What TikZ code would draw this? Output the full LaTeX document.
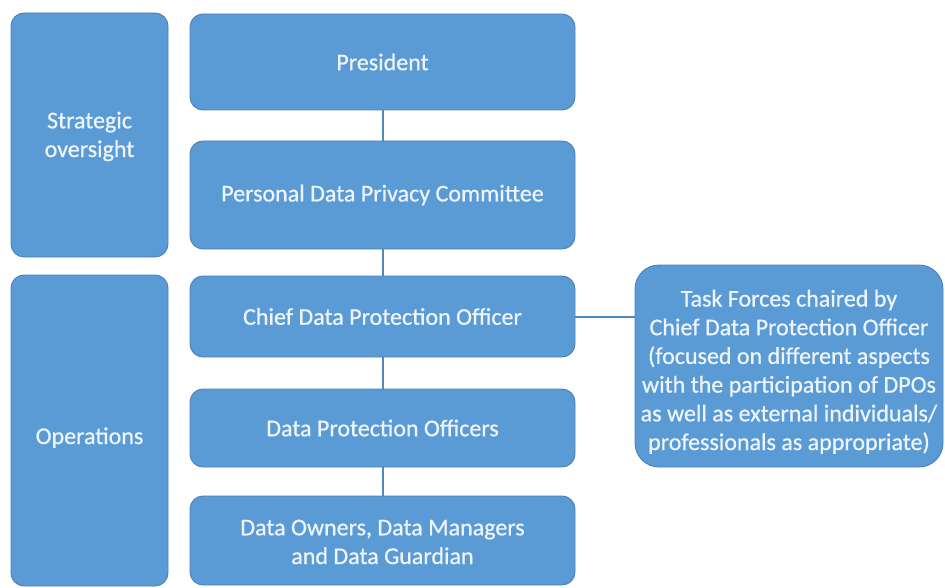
\documentclass[tikz,border=0pt]{standalone}
\usepackage{fontspec}
\setmainfont{Carlito}
\newfontfamily\boxfont[FakeBold=0.7]{Carlito}
\begin{document}
\begin{tikzpicture}[x=1pt,y=-1pt,
  box/.style={draw=boxedge, fill=boxfill, line width=0.9pt, rounded corners=13pt,
    text=boxtext, align=center, inner sep=0pt,
    font=\boxfont\fontsize{24}{28.7}\selectfont},
  link/.style={draw=linkcol, line width=2pt}]
\definecolor{boxfill}{HTML}{5B9BD5}
\definecolor{boxedge}{HTML}{4A80BA}
\definecolor{linkcol}{HTML}{5088C4}
\definecolor{boxtext}{HTML}{EEF4FB}
\useasboundingbox (0,0) rectangle (945,588);

% left-hand tier labels
\node[box, minimum width=157pt, minimum height=244pt, text height=49pt, text depth=5pt] (strat) at (89.5,135) {Strategic\\oversight};
\node[box, minimum width=157pt, minimum height=311pt, text height=32pt, text depth=5pt] (ops) at (89.5,430.5) {Operations};

% reporting chain
\node[box, minimum width=385pt, minimum height=96pt] (pres) at (382.5,62) {President};
\node[box, minimum width=385pt, minimum height=108pt] (pdpc) at (382.5,195) {Personal Data Privacy Committee};
\node[box, minimum width=385pt, minimum height=81pt] (cdpo) at (382.5,316.5) {Chief Data Protection Officer};
\node[box, minimum width=385pt, minimum height=78pt] (dpo) at (382.5,428) {Data Protection Officers};
\node[box, minimum width=385pt, minimum height=89pt, text height=52pt, text depth=5pt] (own) at (382.5,540.5) {Data Owners, Data Managers\\and Data Guardian};

% task forces
\node[box, rounded corners=24pt, minimum width=308pt, minimum height=202pt, text height=173pt, text depth=5pt] (task) at (789,366)
  {Task Forces chaired by\\Chief Data Protection Officer\\(focused on different aspects\\with the participation of DPOs\\as well as external individuals/\\professionals as appropriate)};

% connectors
\draw[link] (pres.south) -- (pdpc.north);
\draw[link] (pdpc.south) -- (cdpo.north);
\draw[link] (cdpo.south) -- (dpo.north);
\draw[link] (dpo.south) -- (own.north);
\draw[link] (cdpo.east) -- (task.west |- cdpo.east);
\end{tikzpicture}
\end{document}
